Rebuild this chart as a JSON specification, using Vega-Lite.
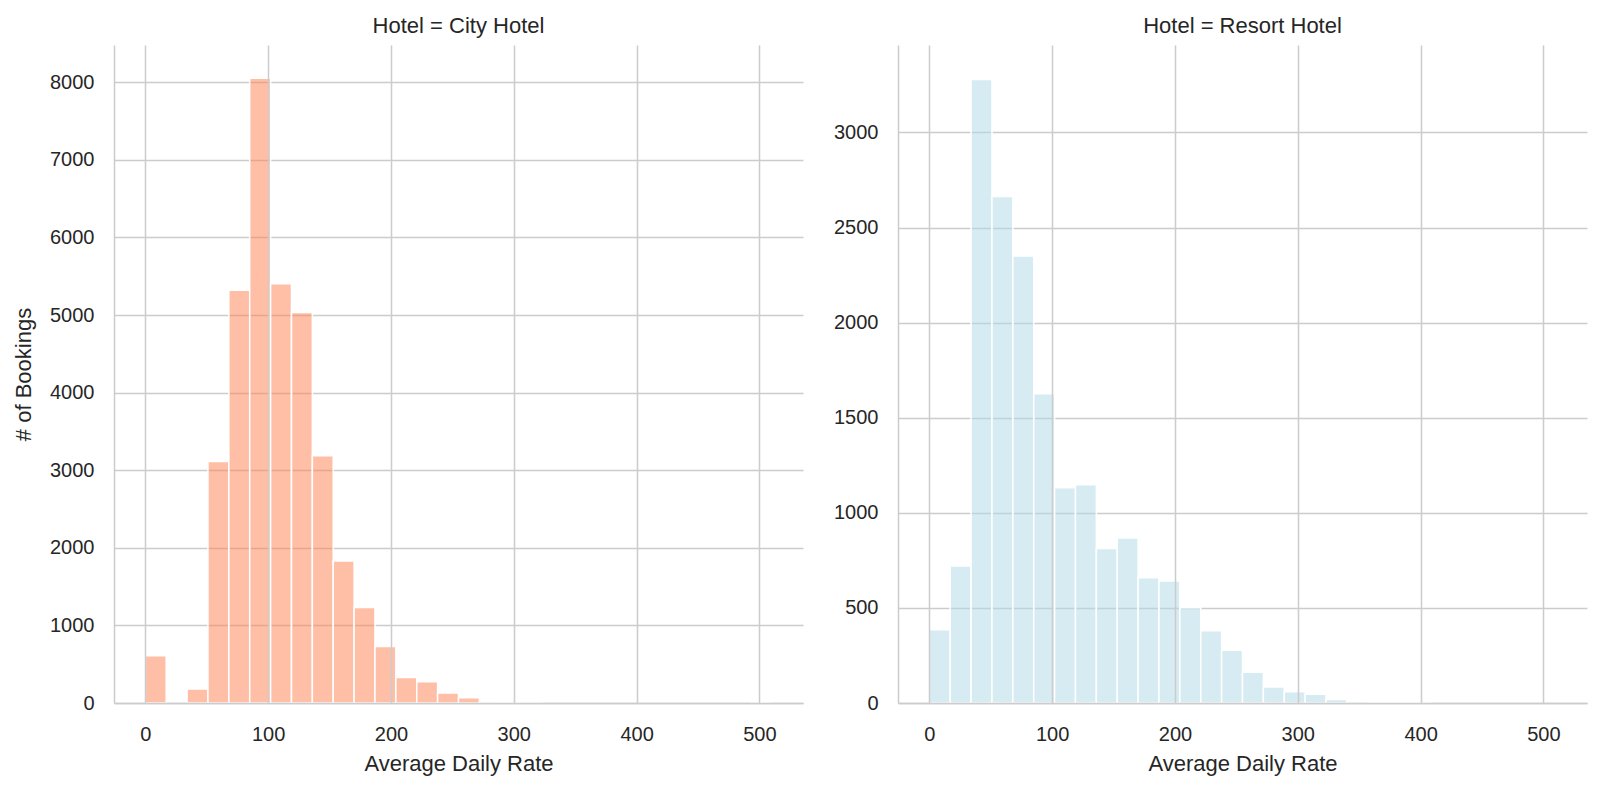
{
  "$schema": "https://vega.github.io/schema/vega-lite/v6.json",
  "padding": {"left": 12, "top": 15, "right": 15, "bottom": 10},
  "background": "white",
  "spacing": 30,
  "config": {
    "view": {"stroke": null},
    "font": "Liberation Sans",
    "axis": {
      "domainColor": "#cccccc",
      "domainWidth": 1.5,
      "gridColor": "#cccccc",
      "gridWidth": 1.5,
      "ticks": false,
      "labelFont": "Liberation Sans",
      "labelFontSize": 20,
      "labelColor": "#262626",
      "labelPadding": 20,
      "titleFont": "Liberation Sans",
      "titleFontSize": 22,
      "titleFontWeight": "normal",
      "titleColor": "#262626",
      "titlePadding": 12
    },
    "axisX": {"labelPadding": 21, "titlePadding": 9},
    "axisY": {"titlePadding": 14},
    "title": {
      "font": "Liberation Sans",
      "fontSize": 22,
      "fontWeight": "normal",
      "color": "#262626",
      "anchor": "middle",
      "offset": 7
    }
  },
  "datasets": {
    "city": [
      {"lo": 0, "hi": 17, "count": 610},
      {"lo": 34, "hi": 51, "count": 180},
      {"lo": 51, "hi": 68, "count": 3113},
      {"lo": 68, "hi": 85, "count": 5319},
      {"lo": 85, "hi": 102, "count": 8052},
      {"lo": 102, "hi": 119, "count": 5403},
      {"lo": 119, "hi": 136, "count": 5034},
      {"lo": 136, "hi": 153, "count": 3186},
      {"lo": 153, "hi": 170, "count": 1831},
      {"lo": 170, "hi": 187, "count": 1232},
      {"lo": 187, "hi": 204, "count": 728},
      {"lo": 204, "hi": 221, "count": 330},
      {"lo": 221, "hi": 238, "count": 274},
      {"lo": 238, "hi": 255, "count": 129},
      {"lo": 255, "hi": 272, "count": 67},
      {"lo": 272, "hi": 289, "count": 15},
      {"lo": 289, "hi": 306, "count": 4},
      {"lo": 306, "hi": 323, "count": 2},
      {"lo": 493, "hi": 510, "count": 1}
    ],
    "resort": [
      {"lo": 0, "hi": 17, "count": 385},
      {"lo": 17, "hi": 34, "count": 720},
      {"lo": 34, "hi": 51, "count": 3278},
      {"lo": 51, "hi": 68, "count": 2663},
      {"lo": 68, "hi": 85, "count": 2351},
      {"lo": 85, "hi": 102, "count": 1626},
      {"lo": 102, "hi": 119, "count": 1132},
      {"lo": 119, "hi": 136, "count": 1148},
      {"lo": 136, "hi": 153, "count": 813},
      {"lo": 153, "hi": 170, "count": 868},
      {"lo": 170, "hi": 187, "count": 658},
      {"lo": 187, "hi": 204, "count": 642},
      {"lo": 204, "hi": 221, "count": 501},
      {"lo": 221, "hi": 238, "count": 380},
      {"lo": 238, "hi": 255, "count": 278},
      {"lo": 255, "hi": 272, "count": 162},
      {"lo": 272, "hi": 289, "count": 84},
      {"lo": 289, "hi": 306, "count": 59},
      {"lo": 306, "hi": 323, "count": 46},
      {"lo": 323, "hi": 340, "count": 18},
      {"lo": 340, "hi": 357, "count": 9},
      {"lo": 357, "hi": 374, "count": 4},
      {"lo": 374, "hi": 391, "count": 2},
      {"lo": 391, "hi": 408, "count": 1}
    ]
  },
  "hconcat": [
    {
      "data": {"name": "city"},
      "width": 689,
      "height": 658,
      "title": "Hotel = City Hotel",
      "mark": {"type": "bar", "fill": "#FF7F50", "fillOpacity": 0.5, "stroke": "white", "strokeWidth": 1.5},
      "encoding": {
        "x": {
          "field": "lo",
          "type": "quantitative",
          "scale": {"domain": [-25.5, 535.5], "nice": false, "zero": false},
          "axis": {"values": [0, 100, 200, 300, 400, 500], "title": "Average Daily Rate", "zindex": 1}
        },
        "x2": {"field": "hi"},
        "y": {
          "field": "count",
          "type": "quantitative",
          "scale": {"domain": [0, 8480], "nice": false},
          "axis": {"values": [0, 1000, 2000, 3000, 4000, 5000, 6000, 7000, 8000], "title": "# of Bookings", "format": "d"}
        },
        "y2": {"datum": 0}
      }
    },
    {
      "data": {"name": "resort"},
      "width": 689,
      "height": 658,
      "title": "Hotel = Resort Hotel",
      "mark": {"type": "bar", "fill": "#ADD8E6", "fillOpacity": 0.5, "stroke": "white", "strokeWidth": 1.5},
      "encoding": {
        "x": {
          "field": "lo",
          "type": "quantitative",
          "scale": {"domain": [-25.5, 535.5], "nice": false, "zero": false},
          "axis": {"values": [0, 100, 200, 300, 400, 500], "title": "Average Daily Rate", "zindex": 1}
        },
        "x2": {"field": "hi"},
        "y": {
          "field": "count",
          "type": "quantitative",
          "scale": {"domain": [0, 3460], "nice": false},
          "axis": {"values": [0, 500, 1000, 1500, 2000, 2500, 3000], "title": null, "format": "d"}
        },
        "y2": {"datum": 0}
      }
    }
  ]
}
